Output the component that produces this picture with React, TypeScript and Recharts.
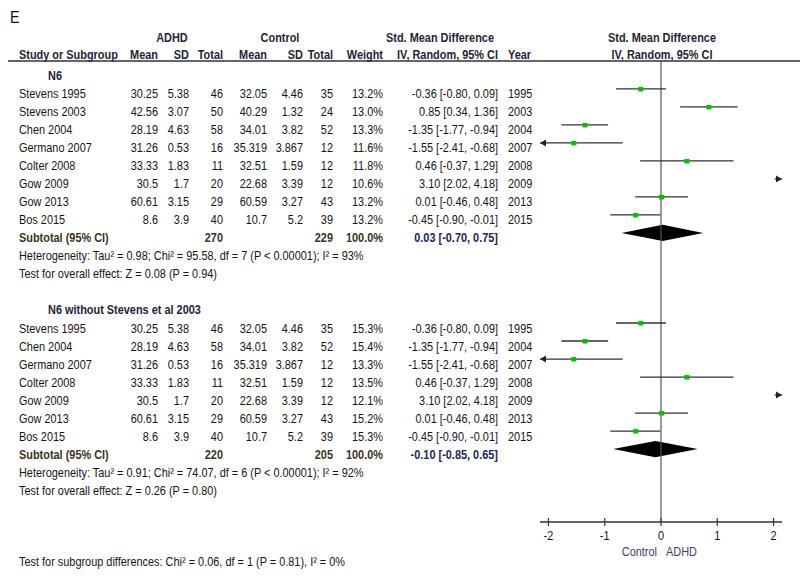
import { ComposedChart, XAxis, YAxis, Scatter, Area, ReferenceLine } from "recharts";

// studies (N6 subgroup)
const studies = ["Stevens 1995", "Stevens 2003", "Chen 2004", "Germano 2007", "Colter 2008", "Gow 2009", "Gow 2013", "Bos 2015"];
const years = [1995, 2003, 2004, 2007, 2008, 2009, 2013, 2015];
const adhdMean = [30.25, 42.56, 28.19, 31.26, 33.33, 30.5, 60.61, 8.6];
const adhdSD = [5.38, 3.07, 4.63, 0.53, 1.83, 1.7, 3.15, 3.9];
const adhdN = [46, 50, 58, 16, 11, 20, 29, 40];
const ctrlMean = [32.05, 40.29, 34.01, 35.319, 32.51, 22.68, 60.59, 10.7];
const ctrlSD = [4.46, 1.32, 3.82, 3.867, 1.59, 3.39, 3.27, 5.2];
const ctrlN = [35, 24, 52, 12, 12, 12, 43, 39];
const smd = [-0.36, 0.85, -1.35, -1.55, 0.46, 3.1, 0.01, -0.45];
const ciLow = [-0.8, 0.34, -1.77, -2.41, -0.37, 2.02, -0.46, -0.9];
const ciHigh = [0.09, 1.36, -0.94, -0.68, 1.29, 4.18, 0.48, -0.01];

// subgroups
const subgroupTitles = ["N6", "N6 without Stevens et al 2003"];
const weightsN6 = [13.2, 13.0, 13.3, 11.6, 11.8, 10.6, 13.2, 13.2];
const weightsNoStevens2003 = [15.3, null, 15.4, 13.3, 13.5, 12.1, 15.2, 15.3];
const subtotalAdhdN = [270, 220];
const subtotalCtrlN = [229, 205];
const pooled = [0.03, -0.1];
const pooledLow = [-0.7, -0.85];
const pooledHigh = [0.75, 0.65];
const heterogeneity = [
  "Heterogeneity: Tau² = 0.98; Chi² = 95.58, df = 7 (P < 0.00001); I² = 93%",
  "Heterogeneity: Tau² = 0.91; Chi² = 74.07, df = 6 (P < 0.00001); I² = 92%",
];
const overallEffect = ["Test for overall effect: Z = 0.08 (P = 0.94)", "Test for overall effect: Z = 0.26 (P = 0.80)"];
const subgroupTest = "Test for subgroup differences: Chi² = 0.06, df = 1 (P = 0.81), I² = 0%";
const xTicks = [-2, -1, 0, 1, 2];

const W = 800;
const H = 577;
const PLOT_TOP = 61;
const PLOT_BOTTOM = 522;
const PLOT_LEFT = 540;
const PLOT_RIGHT = 782;
const X_MIN = -2.15;
const X_MAX = 2.15;
const Y_MIN = -0.55;
const Y_MAX = 25.05;
const SX = 0.84;
const FS = 13;
const FONT = "'Liberation Sans', Arial, Helvetica, sans-serif";

const HEAD = "#1e2436";
const BODY = "#141414";
const SUBT = "#3b3320";
const SUBT_CI = "#1c2657";
const GREEN = "#00c400";

const rowY = (r: number) => PLOT_TOP + ((r - Y_MIN) / (Y_MAX - Y_MIN)) * (PLOT_BOTTOM - PLOT_TOP);
const base = (r: number) => rowY(r) + 9.5;

// lay out rows
const weightSets = [weightsN6, weightsNoStevens2003];
let cursor = 0;
const groups = subgroupTitles.map((title, g) => {
  const idx = studies.map((_, i) => i).filter((i) => weightSets[g][i] != null);
  const titleRow = cursor;
  const rows = idx.map((i, k) => ({ i, row: titleRow + 1 + k, weight: weightSets[g][i] as number }));
  const subtotalRow = titleRow + 1 + idx.length;
  cursor = subtotalRow + 4;
  return { g, title, titleRow, rows, subtotalRow };
});

const allRows = groups.flatMap((gr) => gr.rows);
const squares = allRows
  .filter(({ i }) => smd[i] >= X_MIN && smd[i] <= X_MAX)
  .map(({ i, row }) => ({ x: smd[i], y: row }));
const segments = allRows.map(({ i, row }) => ({
  row,
  lo: Math.max(ciLow[i], X_MIN),
  hi: Math.min(ciHigh[i], X_MAX),
}));
const arrows = allRows.flatMap(({ i, row }) => [
  ...(ciLow[i] < X_MIN ? [{ x: X_MIN, y: row, dir: -1 }] : []),
  ...(ciHigh[i] > X_MAX ? [{ x: X_MAX, y: row, dir: 1 }] : []),
]);
const diamonds = groups.map((gr) => {
  const r = gr.subtotalRow;
  return [
    { x: pooledLow[gr.g], band: [r, r] },
    { x: pooled[gr.g], band: [r - 0.45, r + 0.45] },
    { x: pooledHigh[gr.g], band: [r, r] },
  ];
});

function T({ x, y, anchor = "start", bold = false, color = BODY, size = FS, children }: any) {
  return (
    <text
      x={x / SX}
      y={y}
      transform={`scale(${SX},1)`}
      textAnchor={anchor}
      fontSize={size}
      fontWeight={bold ? 700 : 400}
      fill={color}
    >
      {children}
    </text>
  );
}

function AxisTick(props: any) {
  const { x, y, payload } = props;
  return (
    <g>
      <line x1={x} x2={x} y1={y - 4} y2={y + 4} stroke="#333" strokeWidth={1.2} />
      <text x={x / SX} y={y + 18} transform={`scale(${SX},1)`} textAnchor="middle" fontSize={FS} fill={BODY} fontFamily={FONT}>
        {payload.value}
      </text>
    </g>
  );
}

const Square = (p: any) => <rect x={p.cx - 2.5} y={p.cy - 2} width={5} height={4.5} fill={GREEN} />;
const Arrow = (p: any) => {
  const d = p.payload.dir;
  const b = p.cx - d * 6;
  return <polygon points={`${p.cx},${p.cy} ${b},${p.cy - 3.5} ${b},${p.cy + 3.5}`} fill="#222" />;
};

const fmt2 = (v: number) => v.toFixed(2);
const ciText = (e: number, l: number, h: number) => `${fmt2(e)} [${fmt2(l)}, ${fmt2(h)}]`;

function Table() {
  const cols = { mean: 158, sd: 189, n: 223, cMean: 267, cSd: 303, cN: 333, w: 383, ci: 498, year: 508 };
  return (
    <svg width={W} height={H} style={{ position: "absolute", left: 0, top: 0, pointerEvents: "none" }} fontFamily={FONT}>
      <T x={10} y={23} size={17} color="#111">E</T>
      <T x={172} y={42} anchor="middle" bold color={HEAD}>ADHD</T>
      <T x={280} y={42} anchor="middle" bold color={HEAD}>Control</T>
      <T x={440} y={42} anchor="middle" bold color={HEAD}>Std. Mean Difference</T>
      <T x={662} y={42} anchor="middle" bold color={HEAD}>Std. Mean Difference</T>
      <T x={19} y={59} bold color={HEAD}>Study or Subgroup</T>
      <T x={cols.mean} y={59} anchor="end" bold color={HEAD}>Mean</T>
      <T x={cols.sd} y={59} anchor="end" bold color={HEAD}>SD</T>
      <T x={cols.n} y={59} anchor="end" bold color={HEAD}>Total</T>
      <T x={cols.cMean} y={59} anchor="end" bold color={HEAD}>Mean</T>
      <T x={cols.cSd} y={59} anchor="end" bold color={HEAD}>SD</T>
      <T x={cols.cN} y={59} anchor="end" bold color={HEAD}>Total</T>
      <T x={cols.w} y={59} anchor="end" bold color={HEAD}>Weight</T>
      <T x={cols.ci} y={59} anchor="end" bold color={HEAD}>IV, Random, 95% CI</T>
      <T x={cols.year} y={59} bold color={HEAD}>Year</T>
      <T x={662} y={59} anchor="middle" bold color={HEAD}>IV, Random, 95% CI</T>
      <line x1={8} x2={800} y1={61} y2={61} stroke="#333" strokeWidth={1.5} />

      {groups.map((gr) => (
        <g key={gr.g}>
          <T x={48} y={base(gr.titleRow)} bold color={HEAD}>{gr.title}</T>
          {gr.rows.map(({ i, row, weight }) => (
            <g key={row}>
              <T x={19} y={base(row)}>{studies[i]}</T>
              <T x={cols.mean} y={base(row)} anchor="end">{String(adhdMean[i])}</T>
              <T x={cols.sd} y={base(row)} anchor="end">{String(adhdSD[i])}</T>
              <T x={cols.n} y={base(row)} anchor="end">{String(adhdN[i])}</T>
              <T x={cols.cMean} y={base(row)} anchor="end">{String(ctrlMean[i])}</T>
              <T x={cols.cSd} y={base(row)} anchor="end">{String(ctrlSD[i])}</T>
              <T x={cols.cN} y={base(row)} anchor="end">{String(ctrlN[i])}</T>
              <T x={cols.w} y={base(row)} anchor="end">{weight.toFixed(1)}%</T>
              <T x={cols.ci} y={base(row)} anchor="end">{ciText(smd[i], ciLow[i], ciHigh[i])}</T>
              <T x={cols.year} y={base(row)}>{String(years[i])}</T>
            </g>
          ))}
          <T x={19} y={base(gr.subtotalRow)} bold color={SUBT}>Subtotal (95% CI)</T>
          <T x={cols.n} y={base(gr.subtotalRow)} anchor="end" bold color={SUBT}>{String(subtotalAdhdN[gr.g])}</T>
          <T x={cols.cN} y={base(gr.subtotalRow)} anchor="end" bold color={SUBT}>{String(subtotalCtrlN[gr.g])}</T>
          <T x={cols.w} y={base(gr.subtotalRow)} anchor="end" bold color={SUBT}>100.0%</T>
          <T x={cols.ci} y={base(gr.subtotalRow)} anchor="end" bold color={SUBT_CI}>
            {ciText(pooled[gr.g], pooledLow[gr.g], pooledHigh[gr.g])}
          </T>
          <T x={19} y={base(gr.subtotalRow + 1)}>{heterogeneity[gr.g]}</T>
          <T x={19} y={base(gr.subtotalRow + 2)}>{overallEffect[gr.g]}</T>
        </g>
      ))}

      <T x={657} y={556} anchor="end" color="#3b4060">Control</T>
      <T x={666} y={556} color="#3b4060">ADHD</T>
      <T x={19} y={566}>{subgroupTest}</T>
    </svg>
  );
}

export default function App() {
  return (
    <div style={{ position: "relative", width: W, height: H, background: "#fff" }}>
      <style>{"body{margin:0}"}</style>
      <ComposedChart
        width={W}
        height={H}
        margin={{ top: PLOT_TOP, right: W - PLOT_RIGHT, bottom: H - PLOT_BOTTOM - 30, left: PLOT_LEFT }}
      >
        <XAxis
          type="number"
          dataKey="x"
          domain={[X_MIN, X_MAX]}
          ticks={xTicks}
          allowDataOverflow
          height={30}
          tickSize={0}
          tickMargin={0}
          tickLine={false}
          axisLine={{ stroke: "#333", strokeWidth: 1.3 }}
          tick={(p: any) => <AxisTick {...p} />}
        />
        <YAxis type="number" dataKey="y" domain={[Y_MIN, Y_MAX]} reversed hide allowDataOverflow />
        <ReferenceLine x={0} stroke="#555" strokeWidth={1.2} />
        {segments.map((s) => (
          <ReferenceLine
            key={`seg-${s.row}`}
            segment={[
              { x: s.lo, y: s.row },
              { x: s.hi, y: s.row },
            ]}
            stroke="#333"
            strokeWidth={1.3}
            ifOverflow="visible"
          />
        ))}
        {diamonds.map((d, k) => (
          <Area
            key={`dia-${k}`}
            data={d}
            dataKey="band"
            type="linear"
            stroke="none"
            fill="#000"
            fillOpacity={1}
            dot={false}
            activeDot={false}
            isAnimationActive={false}
          />
        ))}
        <Scatter data={arrows} shape={Arrow} isAnimationActive={false} />
        <Scatter data={squares} shape={Square} isAnimationActive={false} />
      </ComposedChart>
      <Table />
    </div>
  );
}
